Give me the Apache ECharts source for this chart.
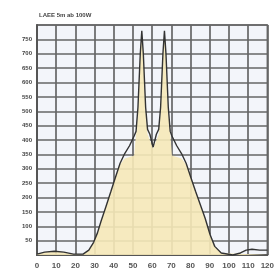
<!DOCTYPE html>
<html>
<head>
<meta charset="utf-8">
<script src="https://cdn.jsdelivr.net/npm/echarts@6/dist/echarts.min.js"></script>
<style>
  html, body { margin: 0; padding: 0; background: #fff; }
  #chart { width: 277px; height: 270px; }
</style>
</head>
<body>
<div id="chart"></div>
<script>
// envelope (black line)
var lineX = [0, 4, 9, 14, 19, 24, 27, 29.5, 31.5, 33.4, 35.9, 38.4, 40.8, 43.3, 45.7, 48.2, 50.6, 51.6, 52.6, 53.8, 54.6, 55.4, 56.6, 57.6, 58.8, 60.5,
             62.2, 63.4, 64.4, 65.6, 66.4, 67.2, 68.4, 69.4, 70.3, 72.8, 75.3, 77.7, 80.2, 82.6, 85.1, 87.6, 90.1, 92.6, 96, 102, 106, 109, 112, 116, 120];
var lineY = [3, 10, 13, 10, 3, 3, 17, 44, 77, 118, 168, 219, 269, 319, 353, 380, 414, 430, 514, 699, 780, 699, 514, 437, 420, 375,
             420, 437, 514, 699, 780, 699, 514, 430, 414, 380, 353, 319, 269, 222, 175, 128, 72, 30, 7, 0, 7, 17, 20, 17, 17];
// filled spectrum (yellow area)
var areaX = [0, 4, 9, 14, 19, 24, 27, 29.5, 31.5, 33.4, 35.9, 38.4, 40.8, 42.3, 45.7, 50.6, 51.6, 52.6, 53.8, 54.6, 55.4, 56.6, 57.6, 60.5,
             63.4, 64.4, 65.6, 66.4, 67.2, 68.4, 69.4, 70.3, 75.3, 78.7, 80.2, 82.6, 85.1, 87.6, 90.1, 92.6, 96, 120];
var areaY = [3, 10, 13, 10, 3, 3, 17, 44, 77, 118, 168, 219, 269, 306, 336, 346, 420, 500, 690, 780, 690, 500, 420, 370,
             420, 500, 690, 780, 690, 500, 420, 346, 336, 306, 269, 222, 175, 128, 72, 30, 7, 0];
var yTicks = [50, 100, 150, 200, 250, 300, 350, 400, 450, 500, 550, 600, 650, 700, 750];

function pairs(xs, ys) {
  return xs.map(function (x, i) { return [x, ys[i]]; });
}

var chart = echarts.init(document.getElementById('chart'));
chart.setOption({
  animation: false,
  title: {
    text: 'LAEE 5m ab 100W',
    left: 34, top: 7,
    textStyle: { fontSize: 6, fontWeight: 'bold', color: '#444', fontFamily: 'Liberation Sans' }
  },
  grid: {
    left: 37, top: 25, right: -4, bottom: 7,
    show: true, backgroundColor: '#f3f5fa', borderColor: '#666', borderWidth: 1.5
  },
  xAxis: {
    type: 'value', min: 0, max: 120, interval: 10,
    axisLine: { show: true, lineStyle: { color: '#555', width: 2 } },
    axisTick: { show: false },
    splitLine: { show: true, lineStyle: { color: '#666', width: 1.7 } },
    axisLabel: { fontSize: 8, color: '#555', margin: 4, fontWeight: 'bold', padding: [3, 0, 0, 0] }
  },
  yAxis: {
    type: 'value', min: 0, max: 800, interval: 50,
    axisLine: { show: true, lineStyle: { color: '#555', width: 2 } },
    axisTick: { show: false },
    splitLine: { show: true, lineStyle: { color: '#666', width: 1.7 } },
    axisLabel: {
      fontSize: 6, color: '#444', margin: 5, fontWeight: 'bold', fontFamily: 'Liberation Sans',
      formatter: function (v) { return yTicks.indexOf(v) >= 0 ? String(v) : ''; }
    }
  },
  series: [
    {
      type: 'line', data: pairs(areaX, areaY), symbol: 'none',
      lineStyle: { width: 0 }, areaStyle: { color: '#f6e9b8', opacity: 0.9 }, z: 1
    },
    {
      type: 'line', data: pairs(lineX, lineY), symbol: 'none',
      lineStyle: { color: '#333', width: 1.4 }, z: 3
    }
  ]
});
</script>
</body>
</html>
